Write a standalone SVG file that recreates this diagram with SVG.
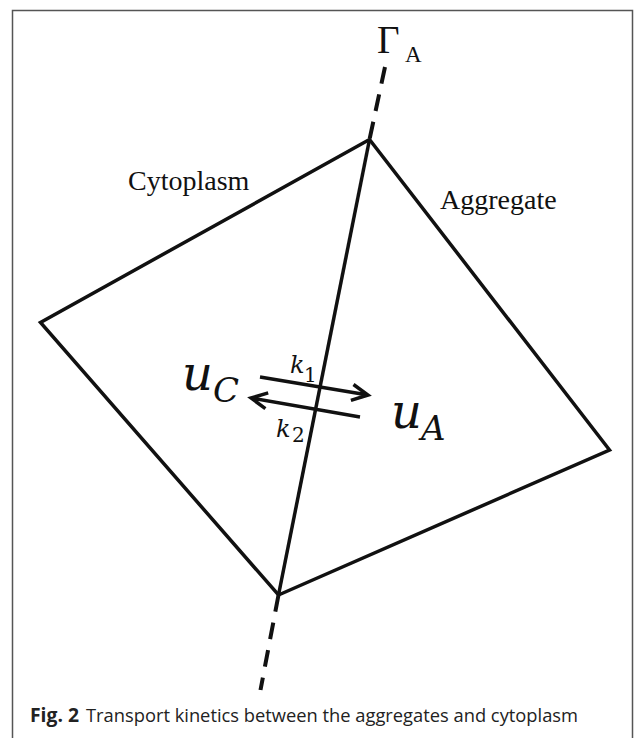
<svg xmlns="http://www.w3.org/2000/svg" width="637" height="738" viewBox="0 0 637 738">
<style>
.edge{fill:none;stroke:#111;stroke-width:3.5;stroke-linejoin:miter}
.dash{fill:none;stroke:#111;stroke-width:4;stroke-dasharray:17 11}
.arrow{fill:none;stroke:#111;stroke-width:3.5;stroke-linecap:butt;stroke-linejoin:miter}
.lbl{font-family:"Liberation Serif","Times New Roman",serif;font-size:28px;fill:#111}
.math{font-family:"DejaVu Serif",serif;font-style:italic;fill:#111}
.sub{font-family:"DejaVu Serif",serif;fill:#111}
.cap{font-family:"Open Sans","Liberation Sans",sans-serif;font-size:19px;fill:#222}
</style>
<rect x="0" y="0" width="637" height="738" fill="#fff"/>
<path d="M12.5,740 V10.5 H632.5 V740" fill="none" stroke="#555" stroke-width="1.5"/>
<g id="domain">
<polygon class="edge" points="369.5,139.5 40.5,322.5 278.5,595 609.5,450"/>
</g>
<g id="interface">
<path class="dash" d="M385,67 L369.5,139.5"/>
<path class="edge" d="M369.5,139.5 L278.5,595"/>
<path class="dash" d="M278.5,595 L260.5,690"/>
<text class="lbl" x="377" y="53" style="font-size:39px">Γ</text>
<text class="lbl" x="405" y="62" style="font-size:23px">A</text>
</g>
<g id="cytoplasm">
<text class="lbl" x="128" y="190">Cytoplasm</text>
<text class="math" x="182" y="390" font-size="48">u</text>
<text class="math" x="213" y="402" font-size="34">C</text>
</g>
<g id="aggregate">
<text class="lbl" x="440" y="209">Aggregate</text>
<text class="math" x="391" y="428" font-size="48">u</text>
<text class="math" x="421" y="440" font-size="34">A</text>
</g>
<g id="connectors">
<path class="arrow" d="M260,377 L368,395 M353.5,384.5 L368,395 L350.9,400.3"/>
<path class="arrow" d="M360,417 L251,398 M268.2,392.9 L251,398 L265.4,408.6"/>
<text class="math" x="290" y="373" font-size="24">k</text>
<text class="sub" x="304" y="382" font-size="20">1</text>
<text class="math" x="276" y="437" font-size="24">k</text>
<text class="sub" x="292" y="442" font-size="20">2</text>
</g>
<g id="caption">
<text class="cap" x="30" y="722" font-weight="bold" textLength="49" lengthAdjust="spacingAndGlyphs">Fig. 2</text>
<text class="cap" x="86" y="722" textLength="492" lengthAdjust="spacingAndGlyphs">Transport kinetics between the aggregates and cytoplasm</text>
</g>
</svg>
